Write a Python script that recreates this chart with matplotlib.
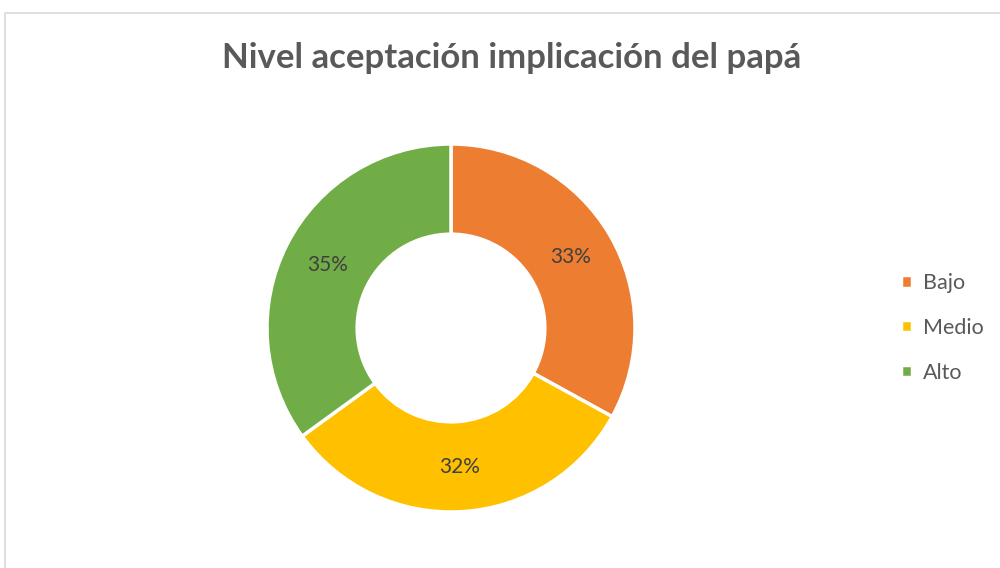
import matplotlib.pyplot as plt
from matplotlib.patches import Rectangle

# datos del grafico
categorias = ['Bajo', 'Medio', 'Alto']
porcentajes = [33, 32, 35]
colores = ['#ED7D31', '#FFC000', '#70AD47']
titulo = 'Nivel aceptación implicación del papá'

plt.rcParams['font.family'] = ['Lato', 'DejaVu Sans']
texto_color = '#595959'

fig = plt.figure(figsize=(10, 5.68), dpi=100)
fig.patch.set_facecolor('white')

# marco del area del grafico
fig.add_artist(Rectangle((5 / 1000, -0.01), 1.0, (568 - 13) / 568 + 0.01,
                         transform=fig.transFigure, fill=False,
                         edgecolor='#D9D9D9', linewidth=1.2))

# dona: centro (451, 328) px, radio 184 px
cx, cy, r = 451, 328, 184
ax = fig.add_axes([(cx - r) / 1000, (568 - cy - r) / 568, 2 * r / 1000, 2 * r / 568])
wedges, textos = ax.pie(
    porcentajes, colors=colores, startangle=90, counterclock=False,
    radius=1.0, wedgeprops=dict(width=0.49, edgecolor='white', linewidth=2.5),
    labels=[f'{p}%' for p in porcentajes], labeldistance=0.755,
    textprops=dict(color='#404040', fontsize=15, ha='center', va='center'))
ax.set_xlim(-1, 1)
ax.set_ylim(-1, 1)
ax.set_aspect('equal')
ax.axis('off')

fig.text(0.512, 1 - 58 / 568, titulo, ha='center', va='center',
         fontsize=25, fontweight='bold', color=texto_color)

# leyenda
leg = fig.legend(wedges, categorias, loc='center left',
                 bbox_to_anchor=(882 / 1000, 1 - 328 / 568), frameon=False,
                 fontsize=15.5, labelcolor=texto_color, handlelength=0.5,
                 handleheight=0.5, handletextpad=0.5, labelspacing=1.15)

fig.savefig('out.png', dpi=100, facecolor='white')
